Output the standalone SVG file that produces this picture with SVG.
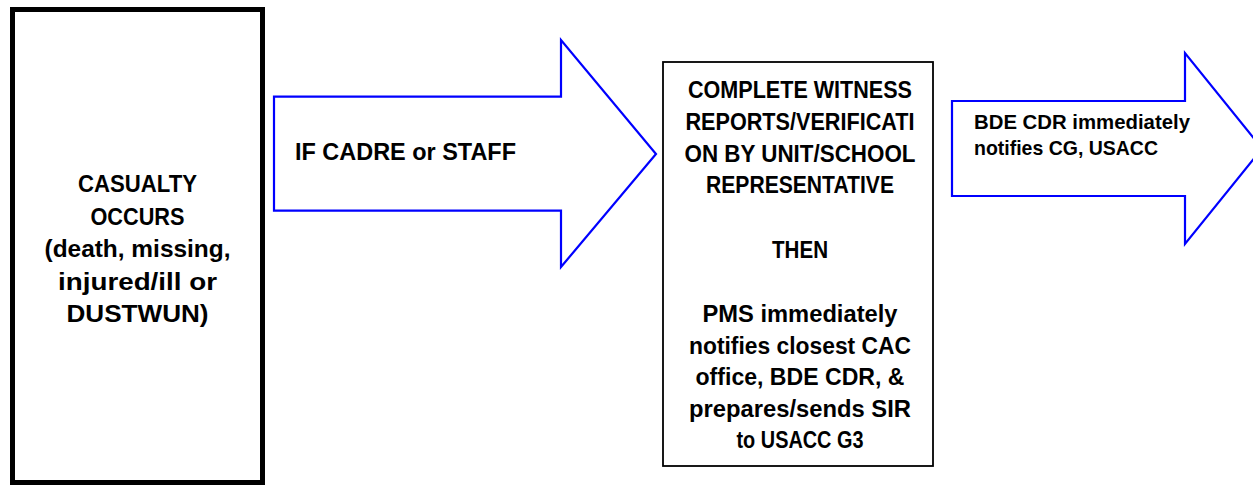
<svg xmlns="http://www.w3.org/2000/svg" width="1253" height="487" viewBox="0 0 1253 487">
<style>
  .t { font-family: "Liberation Sans", Arial, sans-serif; font-weight: bold; fill: #000; }
  .b1 { font-size: 24.5px; }
  .b2 { font-size: 23px; }
  .a1 { font-size: 24px; }
  .a2 { font-size: 21px; }
  .arrow { fill: #fff; stroke: #0000ff; stroke-width: 2.2; stroke-linejoin: miter; }
</style>
<rect x="0" y="0" width="1253" height="487" fill="#fff"/>
<g id="connectors">
  <g id="arrow-cadre">
    <polygon class="arrow" points="274,96.7 561,96.7 561,40 656,154 561,267 561,210.7 274,210.7"/>
    <text class="t a1" x="295" y="160" textLength="221" lengthAdjust="spacingAndGlyphs">IF CADRE or STAFF</text>
  </g>
  <g id="arrow-bde">
    <polygon class="arrow" points="952,101 1185,101 1185,53 1262,148.5 1185,244 1185,196 952,196"/>
    <text class="t a2" x="974" y="129" textLength="216" lengthAdjust="spacingAndGlyphs">BDE CDR immediately</text>
    <text class="t a2" x="974" y="155" textLength="184" lengthAdjust="spacingAndGlyphs">notifies CG, USACC</text>
  </g>
</g>
<g id="node-casualty">
  <rect x="12.5" y="9.5" width="250" height="473" fill="#fff" stroke="#000" stroke-width="5"/>
  <text class="t b1" x="78" y="192" textLength="119" lengthAdjust="spacingAndGlyphs">CASUALTY</text>
  <text class="t b1" x="90.5" y="224.5" textLength="94" lengthAdjust="spacingAndGlyphs">OCCURS</text>
  <text class="t b1" x="44.5" y="257" textLength="186" lengthAdjust="spacingAndGlyphs">(death, missing,</text>
  <text class="t b1" x="58" y="289.5" textLength="159" lengthAdjust="spacingAndGlyphs">injured/ill or</text>
  <text class="t b1" x="66.5" y="322" textLength="142" lengthAdjust="spacingAndGlyphs">DUSTWUN)</text>
</g>
<g id="node-witness">
  <rect x="663" y="62" width="270" height="404" fill="#fff" stroke="#000" stroke-width="1.8"/>
  <text class="t b2" x="688" y="98" textLength="224" lengthAdjust="spacingAndGlyphs">COMPLETE WITNESS</text>
  <text class="t b2" x="685.5" y="129.8" textLength="229" lengthAdjust="spacingAndGlyphs">REPORTS/VERIFICATI</text>
  <text class="t b2" x="684.5" y="161.6" textLength="231" lengthAdjust="spacingAndGlyphs">ON BY UNIT/SCHOOL</text>
  <text class="t b2" x="706" y="193.4" textLength="188" lengthAdjust="spacingAndGlyphs">REPRESENTATIVE</text>
  <text class="t b2" x="772" y="258" textLength="56" lengthAdjust="spacingAndGlyphs">THEN</text>
  <text class="t b2" x="702.5" y="322" textLength="195" lengthAdjust="spacingAndGlyphs">PMS immediately</text>
  <text class="t b2" x="689" y="353.5" textLength="222" lengthAdjust="spacingAndGlyphs">notifies closest CAC</text>
  <text class="t b2" x="695.5" y="385" textLength="209" lengthAdjust="spacingAndGlyphs">office, BDE CDR, &amp;</text>
  <text class="t b2" x="689" y="416.5" textLength="222" lengthAdjust="spacingAndGlyphs">prepares/sends SIR</text>
  <text class="t b2" x="736.5" y="448" textLength="127" lengthAdjust="spacingAndGlyphs">to USACC G3</text>
</g>
</svg>
